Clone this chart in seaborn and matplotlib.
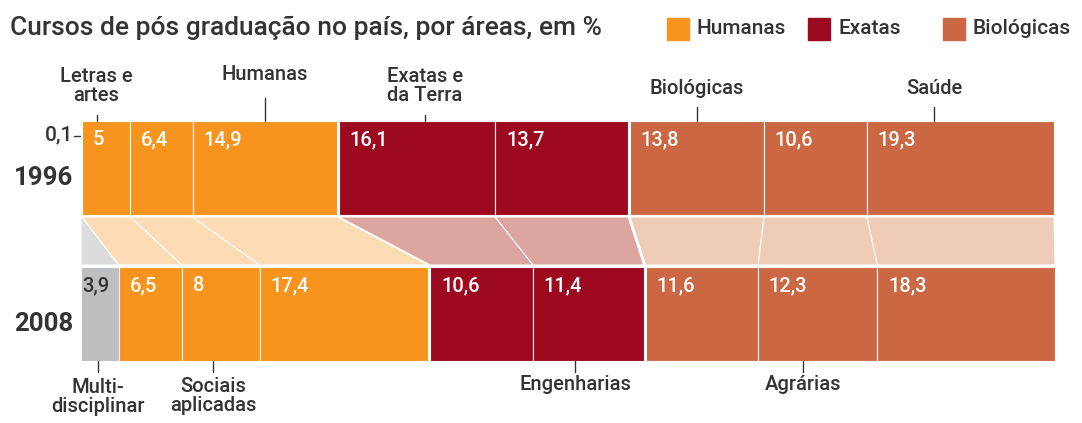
import matplotlib
matplotlib.use("Agg")
import matplotlib.pyplot as plt
import seaborn as sns

# data (percent of post-graduate courses by area)
areas = ["Multidisciplinar", "Letras e artes", "Sociais aplicadas", "Humanas",
         "Exatas e da Terra", "Engenharias", "Biológicas", "Agrárias", "Saúde"]
groups = ["Multi", "Humanas", "Humanas", "Humanas",
          "Exatas", "Exatas", "Biológicas", "Biológicas", "Biológicas"]
years = ["1996", "2008"]
values_1996 = [0.1, 5, 6.4, 14.9, 16.1, 13.7, 13.8, 10.6, 19.3]
values_2008 = [3.9, 6.5, 8, 17.4, 10.6, 11.4, 11.6, 12.3, 18.3]
legend_groups = ["Humanas", "Exatas", "Biológicas"]

colors = {"Multi": "#BDBEC0", "Humanas": "#F7941E",
          "Exatas": "#9D0A20", "Biológicas": "#CB6843"}
light = {"Multi": "#DCDCDE", "Humanas": "#FDDBB4",
         "Exatas": "#DCA59F", "Biológicas": "#EFCCB7"}

sns.set_theme(style="white")
plt.rcParams["font.family"] = ["Roboto", "DejaVu Sans"]
TXT = "#333333"

GAP = 0.2
x0_px, x1_px = 81, 1055
px_per = (x1_px - x0_px) / (100 + 2 * GAP)


def px2x(px):
    return (px - x0_px) / px_per


def lefts(vals):
    out, x, prev = [], 0.0, None
    for v, g in zip(vals, groups):
        if prev is not None and g != prev and prev != "Multi":
            x += GAP
        out.append(x)
        x += v
        prev = g
    return out


def fmt(v):
    return f"{v:g}".replace(".", ",")


fig = plt.figure(figsize=(10.82, 4.23), dpi=100)
ax = fig.add_axes([0, 0, 1, 1])
ax.set_xlim(px2x(0), px2x(1082))
ax.set_ylim(423, 0)
ax.axis("off")

# bars: (top px, bottom px) for each year
rows = {"1996": (121, 215), "2008": (267, 361)}
data = {"1996": values_1996, "2008": values_2008}
starts = {y: lefts(data[y]) for y in years}

for yr in years:
    top, bot = rows[yr]
    ax.barh((top + bot) / 2, data[yr], left=starts[yr], height=bot - top,
            color=[colors[g] for g in groups], edgecolor="white", linewidth=0.8)
    for i, (l, v) in enumerate(zip(starts[yr], data[yr])):
        if v < 1:
            continue
        pad = 0.15 if groups[i] == "Multi" else 1.1
        ax.text(l + pad, top + 9, fmt(v), ha="left", va="top", fontsize=14.5,
                fontweight="medium", color=TXT if groups[i] == "Multi" else "white")

# connectors between the two bars
y_a, y_b = 217, 265
for i, g in enumerate(groups):
    la, lb = starts["1996"][i], starts["2008"][i]
    ra, rb = la + values_1996[i], lb + values_2008[i]
    ax.fill([la, ra, rb, lb], [y_a, y_a, y_b, y_b], color=light[g],
            edgecolor="white", linewidth=0.8)

# tiny 0,1 value
ax.text(px2x(73), 135, fmt(values_1996[0]), ha="right", va="center",
        fontsize=15, fontweight="medium", color=TXT)
ax.plot([px2x(74), px2x(80)], [136, 136], color=TXT, lw=1)

# year labels
for yr in years:
    top, bot = rows[yr]
    ax.text(px2x(73), (top + bot) / 2 + 10, yr, ha="right", va="center",
            fontsize=18.5, fontweight="bold", color=TXT)

# area labels above 1996 bar: (area index, anchor fraction, text centre y, tick top)
top_labels = [(1, 0.3, "Letras e\nartes", 86, 115), (3, 0.5, "Humanas", 74, 98),
              (4, 0.55, "Exatas e\nda Terra", 86, 115),
              (6, 0.5, "Biológicas", 88, 107), (8, 0.36, "Saúde", 88, 107)]
for i, frac, label, ty, tick in top_labels:
    x = starts["1996"][i] + frac * values_1996[i]
    ax.text(x, ty, label, ha="center", va="center", fontsize=14.5,
            fontweight="medium", color=TXT, linespacing=0.95)
    ax.plot([x, x], [tick, rows["1996"][0]], color=TXT, lw=1)

bottom_labels = [(0, 0.45, "Multi-\ndisciplinar", 397), (2, 0.4, "Sociais\naplicadas", 396),
                 (5, 0.38, "Engenharias", 384), (7, 0.38, "Agrárias", 384)]
for i, frac, label, ty in bottom_labels:
    x = starts["2008"][i] + frac * values_2008[i]
    ax.text(x, ty, label, ha="center", va="center", fontsize=14.5,
            fontweight="medium", color=TXT, linespacing=0.95)
    ax.plot([x, x], [rows["2008"][1], 372], color=TXT, lw=1)

# title and legend
ax.text(px2x(10), 28, "Cursos de pós graduação no país, por áreas, em %",
        ha="left", va="center", fontsize=19, fontweight="medium", color=TXT)
leg_x = [667, 808, 943]
for px, g in zip(leg_x, legend_groups):
    ax.add_patch(plt.Rectangle((px2x(px), 18), px2x(px + 22) - px2x(px), 22,
                               color=colors[g]))
    ax.text(px2x(px + 30), 29, g, ha="left", va="center", fontsize=15,
            fontweight="medium", color=TXT)

fig.savefig("out.png", dpi=100)
